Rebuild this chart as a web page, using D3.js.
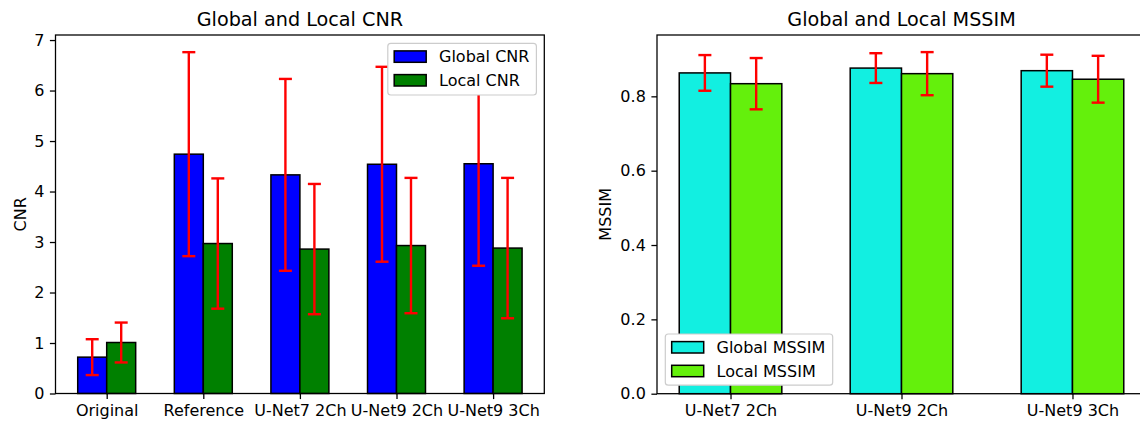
<!DOCTYPE html>
<html>
<head>
<meta charset="utf-8">
<script src="https://cdn.jsdelivr.net/npm/d3@7"></script>
<style>
  html, body { margin: 0; padding: 0; background: #ffffff; }
  svg { display: block; }
  text { font-family: "DejaVu Sans", sans-serif; fill: #000; }
</style>
</head>
<body>
<svg id="chart" width="1140" height="421"></svg>
<script>
// ---- Data ----
const cnrCategories = ["Original", "Reference", "U-Net7 2Ch", "U-Net9 2Ch", "U-Net9 3Ch"];
const globalCNR    = [0.72, 4.74, 4.33, 4.54, 4.55];
const globalCNRErr = [0.355, 2.02, 1.90, 1.93, 2.02];
const localCNR     = [1.01, 2.97, 2.86, 2.93, 2.88];
const localCNRErr  = [0.395, 1.29, 1.29, 1.34, 1.39];
const cnrTicks     = [0, 1, 2, 3, 4, 5, 6, 7];

const mssimCategories = ["U-Net7 2Ch", "U-Net9 2Ch", "U-Net9 3Ch"];
const globalMSSIM    = [0.863, 0.876, 0.869];
const globalMSSIMErr = [0.048, 0.040, 0.043];
const localMSSIM     = [0.834, 0.861, 0.846];
const localMSSIMErr  = [0.069, 0.058, 0.063];
const mssimTicks     = [0.0, 0.2, 0.4, 0.6, 0.8];

const svg = d3.select("#chart");
const FS = 16;          // tick / legend font size (px)
const TITLE_FS = 19.2;
const BAR_W = 0.3;

function panel(cfg) {
  const x = d3.scaleLinear().domain(cfg.xDomain).range([cfg.left, cfg.right]);
  const y = d3.scaleLinear().domain(cfg.yDomain).range([cfg.bottom, cfg.top]);
  const g = svg.append("g");

  const series = [
    { name: cfg.names[0], vals: cfg.v1, err: cfg.e1, color: cfg.colors[0], off: -BAR_W / 2 },
    { name: cfg.names[1], vals: cfg.v2, err: cfg.e2, color: cfg.colors[1], off: BAR_W / 2 }
  ];

  // bars
  series.forEach(s => {
    g.append("g").selectAll("rect").data(s.vals).join("rect")
      .attr("x", (d, i) => x(i + s.off - BAR_W / 2))
      .attr("width", (d, i) => x(i + s.off + BAR_W / 2) - x(i + s.off - BAR_W / 2))
      .attr("y", d => y(d))
      .attr("height", d => y(0) - y(d))
      .attr("fill", s.color)
      .attr("stroke", "#000")
      .attr("stroke-width", 1.5);
  });

  // error bars
  const cap = 6.5;
  series.forEach(s => {
    const eg = g.append("g").attr("stroke", "#ff0000").attr("stroke-width", 2.4).attr("fill", "none");
    s.vals.forEach((v, i) => {
      const cx = x(i + s.off);
      const y1 = y(v + s.err[i]), y2 = y(v - s.err[i]);
      eg.append("line").attr("x1", cx).attr("x2", cx).attr("y1", y1).attr("y2", y2);
      eg.append("line").attr("x1", cx - cap).attr("x2", cx + cap).attr("y1", y1).attr("y2", y1);
      eg.append("line").attr("x1", cx - cap).attr("x2", cx + cap).attr("y1", y2).attr("y2", y2);
    });
  });

  // axes
  const yAxis = d3.axisLeft(y).tickValues(cfg.yTicks).tickSize(5.6).tickPadding(5.6)
    .tickFormat(cfg.yFormat);
  const ya = g.append("g").attr("transform", `translate(${cfg.left},0)`).call(yAxis);
  const xAxis = d3.axisBottom(x).tickValues(cfg.cats.map((c, i) => i)).tickSize(5.6).tickPadding(5.6)
    .tickFormat(i => cfg.cats[i]);
  const xa = g.append("g").attr("transform", `translate(0,${cfg.bottom})`).call(xAxis);
  [ya, xa].forEach(a => {
    a.select(".domain").remove();
    a.selectAll(".tick line").attr("stroke", "#000").attr("stroke-width", 1.28);
    a.selectAll(".tick text").attr("font-size", FS).attr("font-family", "DejaVu Sans").attr("fill", "#000");
  });

  // spines
  g.append("rect")
    .attr("x", cfg.left).attr("y", cfg.top)
    .attr("width", cfg.right - cfg.left).attr("height", cfg.bottom - cfg.top)
    .attr("fill", "none").attr("stroke", "#000").attr("stroke-width", 1.28);

  // title
  g.append("text")
    .attr("x", (cfg.left + cfg.right) / 2).attr("y", cfg.top - 9.2)
    .attr("text-anchor", "middle").attr("font-size", TITLE_FS)
    .text(cfg.title);

  // y label
  g.append("text")
    .attr("transform", `translate(${cfg.ylabelX},${(cfg.top + cfg.bottom) / 2}) rotate(-90)`)
    .attr("text-anchor", "middle").attr("font-size", FS)
    .text(cfg.ylabel);

  // legend
  const L = cfg.legend;
  const lg = g.append("g");
  lg.append("rect")
    .attr("x", L.x).attr("y", L.y).attr("width", L.w).attr("height", L.h)
    .attr("rx", 3).attr("ry", 3)
    .attr("fill", "#fff").attr("stroke", "#cccccc").attr("stroke-width", 1.2);
  series.forEach((s, k) => {
    const cy = L.y + 13.3 + k * 23.7;
    lg.append("rect")
      .attr("x", L.x + 6.4).attr("y", cy - 5.7).attr("width", 32).attr("height", 11.4)
      .attr("fill", s.color).attr("stroke", "#000").attr("stroke-width", 1.5);
    lg.append("text")
      .attr("x", L.x + 6.4 + 32 + 12.8).attr("y", cy + 5.8)
      .attr("font-size", FS).text(s.name);
  });
}

panel({
  left: 55.5, right: 544.3, top: 35, bottom: 393.5,
  xDomain: [-0.53, 4.53], yDomain: [0, 7.1],
  cats: cnrCategories, v1: globalCNR, e1: globalCNRErr, v2: localCNR, e2: localCNRErr,
  colors: ["#0000ff", "#008000"], names: ["Global CNR", "Local CNR"],
  yTicks: cnrTicks, yFormat: d3.format("d"),
  title: "Global and Local CNR", ylabel: "CNR", ylabelX: 25.5,
  legend: { x: 387.8, y: 43.3, w: 148.6, h: 51.7 }
});

panel({
  left: 657, right: 1146, top: 35, bottom: 393.7,
  xDomain: [-0.43, 2.43], yDomain: [0, 0.965],
  cats: mssimCategories, v1: globalMSSIM, e1: globalMSSIMErr, v2: localMSSIM, e2: localMSSIMErr,
  colors: ["#12efe1", "#64f00c"], names: ["Global MSSIM", "Local MSSIM"],
  yTicks: mssimTicks, yFormat: d3.format(".1f"),
  title: "Global and Local MSSIM", ylabel: "MSSIM", ylabelX: 610.5,
  legend: { x: 665.3, y: 334, w: 167.4, h: 51.2 }
});
</script>
</body>
</html>
